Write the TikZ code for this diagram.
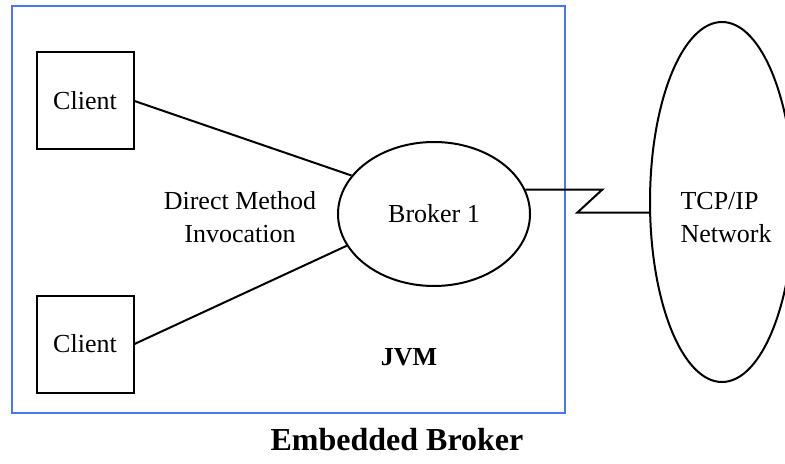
\documentclass[tikz,border=0pt]{standalone}
\usepackage{fontspec}
\setmainfont{Liberation Serif}
\usetikzlibrary{shapes}
\usetikzlibrary{positioning}

\definecolor{jvmblue}{RGB}{72,118,250}

\begin{document}
\begin{tikzpicture}[x=0.5pt, y=-0.5pt, line width=1pt,
    font=\fontsize{13}{16.5}\selectfont,
    client/.style={draw, rectangle, minimum size=48.5pt, inner sep=0pt},
    broker/.style={draw, ellipse, minimum width=96pt, minimum height=72pt, inner sep=0pt},
    cloud/.style={draw, ellipse, minimum width=72pt, minimum height=180pt, inner sep=0pt},
    title/.style={font=\fontsize{13}{16}\bfseries\selectfont}]

    \useasboundingbox (0,0) rectangle (785,464);

    % the JVM frame
    \draw[jvmblue] (12,6) rectangle (565,413);

    \node(C1)[client] at (85,101){Client};
    \node(C2)[client, below=72pt of C1]{Client};
    \node(B1)[broker] at (434,214){Broker 1};
    \node(N)[cloud] at (722,202){};

    \node(DMI)[align=center] at (240,217){Direct Method\\Invocation};
    \node(NL)[align=left] at (726,218){TCP/IP\\Network};
    \node(JVM)[title] at (409,357){JVM};
    \node(EB)[title, font=\fontsize{16}{19}\bfseries\selectfont] at (397,440){Embedded Broker};

    \draw (C1.east) -- (B1.155);
    \draw (C2.east) -- (B1.200);

    % link out to the network
    \draw (B1.15) -- ++(77,0) -- ++(-25,23) coordinate(Z) -- (Z -| N.west);

\end{tikzpicture}
\end{document}
